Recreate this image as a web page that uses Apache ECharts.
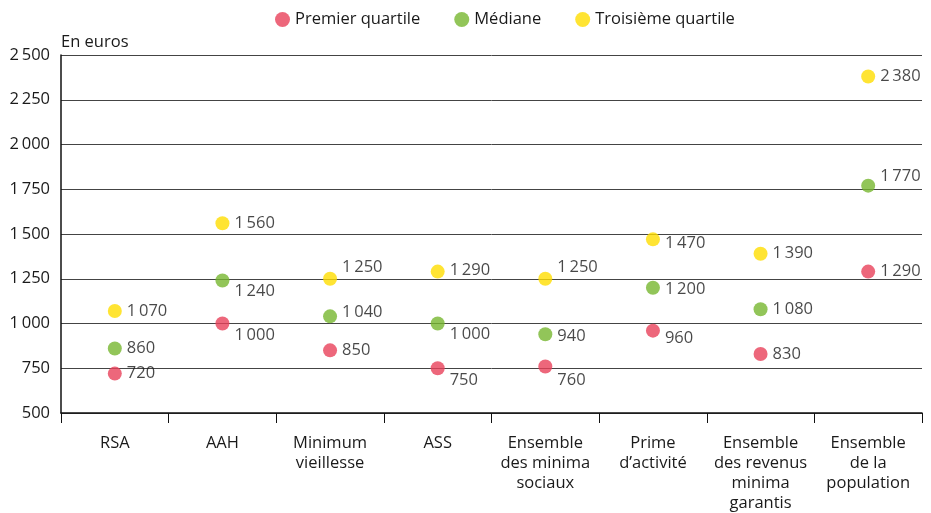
<!DOCTYPE html>
<html><head><meta charset="utf-8">
<script src="https://cdn.jsdelivr.net/npm/echarts@6/dist/echarts.min.js"></script>
<style>html,body{margin:0;padding:0;background:#fff}#c{width:931px;height:513px}</style>
</head><body><div id="c"></div>
<script>
const categories = ["RSA", "AAH", "Minimum\nvieillesse", "ASS", "Ensemble\ndes minima\nsociaux", "Prime\nd’activité", "Ensemble\ndes revenus\nminima\ngarantis", "Ensemble\nde la\npopulation"];
const premierQuartile = [720, 1000, 850, 750, 760, 960, 830, 1290];
const mediane = [860, 1240, 1040, 1000, 940, 1200, 1080, 1770];
const troisiemeQuartile = [1070, 1560, 1250, 1290, 1250, 1470, 1390, 2380];
const yTicks = {min: 500, max: 2500, interval: 250};

// vertical label nudges (layout only)
const shiftQ1 = [0, 12, 0, 12, 14, 8, 0, 0];
const shiftMed = [0, 11, -4, 11, 2, 2, 0, -9];
const shiftQ3 = [0, 0, -11, -1, -11, 4, 0, 0];

const fmt = v => String(v).replace(/\B(?=(\d{3})+(?!\d))/g, '\u2009');
const FONT = 'Open Sans';
const TXT = '#1a1a1a';
const FS = 16.5;

function build(name, values, shifts, color) {
  return {
    name, type: 'scatter', symbol: 'circle', symbolSize: 14,
    itemStyle: {color},
    data: values.map((v, i) => ({
      value: v,
      label: {offset: [0, shifts[i]]}
    })),
    label: {
      show: true, position: 'right', distance: 5,
      formatter: p => fmt(p.value),
      color: TXT, fontSize: FS, fontFamily: FONT
    },
    z: 5
  };
}

const chart = echarts.init(document.getElementById('c'), null, {renderer: 'canvas'});
chart.setOption({
  animation: false,
  textStyle: {fontFamily: FONT},
  legend: {
    top: 6, left: 270, icon: 'circle', itemWidth: 15, itemHeight: 15, itemGap: 34,
    textStyle: {fontSize: FS, color: TXT, fontFamily: FONT},
    data: ['Premier quartile', 'Médiane', 'Troisième quartile']
  },
  grid: {left: 61, right: 9, top: 55, bottom: 98, containLabel: false},
  xAxis: {
    type: 'category', data: categories, boundaryGap: true,
    axisLine: {show: true, lineStyle: {color: '#111', width: 1.5}},
    axisTick: {show: true, length: 10, lineStyle: {color: '#111', width: 1}},
    axisLabel: {interval: 0, margin: 20, fontSize: FS, lineHeight: 20, color: TXT, fontFamily: FONT},
    splitLine: {show: false}
  },
  yAxis: {
    type: 'value', min: yTicks.min, max: yTicks.max, interval: yTicks.interval,
    name: 'En euros', nameLocation: 'end', nameGap: 4,
    nameTextStyle: {align: 'left', fontSize: FS, color: TXT, fontFamily: FONT, padding: [0, 0, 0, 0]},
    axisLine: {show: true, lineStyle: {color: '#111', width: 1.5}},
    axisTick: {show: false},
    axisLabel: {margin: 11, fontSize: FS, color: TXT, fontFamily: FONT, formatter: v => fmt(v)},
    splitLine: {show: true, lineStyle: {color: '#444', width: 1}}
  },
  series: [
    build('Premier quartile', premierQuartile, shiftQ1, '#E8415A'),
    build('Médiane', mediane, shiftMed, '#77B72F'),
    build('Troisième quartile', troisiemeQuartile, shiftQ3, '#FFDD00')
  ]
});
</script></body></html>
